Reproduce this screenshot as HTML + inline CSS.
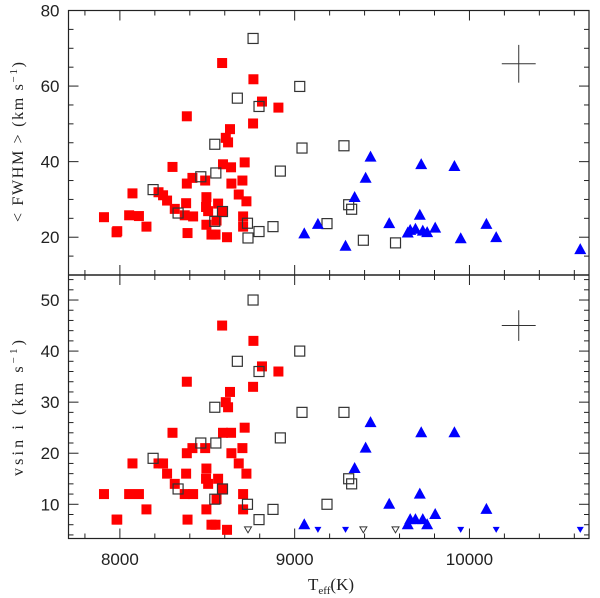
<!DOCTYPE html>
<html><head><meta charset="utf-8"><style>
html,body{margin:0;padding:0;background:#fff;}
svg{display:block;}
text{font-family:"Liberation Sans",sans-serif;fill:#222;}
</style></head><body>
<svg id="chart" width="600" height="598" viewBox="0 0 600 598" xmlns="http://www.w3.org/2000/svg"></svg>
<script>
// ---- data ----
const redTeff = [8585,8764,8813,8907,8383,8762,8630,8606,8619,8301,8590,8636,8714,8415,8488,8383,8638,8701,8072,8221,8247,8270,8495,8680,8724,8379,8493,8562,8314,8505,8590,8371,8419,7909,8053,8109,8152,8495,8553,8705,8705,7981,7985,8387,8524,8547,8613];
const redFwhm = [66.1,61.8,55.9,54.3,52.0,50.1,48.6,46.3,45.1,38.6,39.3,38.5,39.8,35.7,35.0,34.2,34.2,35.0,31.6,31.9,31.1,29.7,30.6,31.3,29.5,29.0,28.0,28.9,27.5,26.9,26.9,25.8,25.5,25.3,25.8,25.6,22.8,23.3,24.4,25.5,22.8,21.3,21.6,21.1,20.7,20.7,20.0];
const redVsini = [45,42,37,36,34,33,32,30,29,24,24,24,25,21,21,20,20,21,18,18,18,16,17,18,16,16,15,15,14,14,13,12,12,12,12,12,9,9,11,12,9,7,7,7,6,6,5];

const openTeff = [8762,9029,8672,8796,9042,8543,8918,8549,8463,8190,8333,8587,8543,8730,8796,8876,8733,9282,9309,9326,9185,9393,9577];
const openFwhm = [72.6,59.9,56.8,54.6,43.6,44.6,37.5,37.0,36.0,32.6,26.4,26.8,24.2,23.7,21.5,22.8,19.8,44.2,28.6,27.4,23.6,19.2,18.5];
const openVsini = [50,40,38,36,28,29,23,22,22,19,13,13,11,10,7,9,5,28,15,14,10,5,5];
const openLimit = [0,0,0,0,0,0,0,0,0,0,0,0,0,0,0,0,1,0,0,0,0,1,1];

const blueTeff = [9055,9133,9291,9343,9406,9434,9541,9647,9661,9691,9733,9758,9716,9724,9804,9914,9950,10097,10153,10634];
const blueFwhm = [20.9,23.4,17.6,30.5,35.6,41.2,23.6,21.1,21.8,22.1,21.6,21.2,25.8,39.2,22.4,38.7,19.6,23.4,19.9,16.7];
const blueVsini = [6,5,5,17,21,26,10,6,7,7,7,6,12,24,8,24,5,9,5,5];
const blueLimit = [0,1,1,0,0,0,0,0,0,0,0,0,0,0,0,0,1,0,1,1];

const xTicks = [8000,9000,10000];
const topTicks = [20,40,60,80];
const botTicks = [10,20,30,40,50];
const errTop = {x:10282, y:65.9, dx:97, dy:5};
const errBot = {x:10282, y:45, dx:97, dy:3};

// ---- layout ----
const L=68.5, R=589, T=10.5, M=275, B=538.5;
const X0=7706, X1=10684;
const sx = v => L + (v - X0) / (X1 - X0) * (R - L);
const syTop = v => M - (v - 10) / (80 - 10) * (M - T);
const syBot = v => B - (v - 3.3) / (54.9 - 3.3) * (B - M);

const svg = document.getElementById('chart');
const NS = 'http://www.w3.org/2000/svg';
function mk(tag, attrs, parent){
  const e = document.createElementNS(NS, tag);
  for (const k in attrs) e.setAttribute(k, attrs[k]);
  (parent||svg).appendChild(e);
  return e;
}

function panel(name, sy, ticks, minorStep, lo, hi){
  const g = mk('g', {});
  
  
  const top = sy(hi), bot = sy(lo);
  for (let v = 7800; v <= 10600; v += 200){
    const major = v % 1000 === 0;
    const len = major ? 10 : 5;
    const x = sx(v);
    mk('line', {x1:x, x2:x, y1:bot, y2:bot-len, stroke:'#222', 'stroke-width':1}, g);
    mk('line', {x1:x, x2:x, y1:top, y2:top+len, stroke:'#222', 'stroke-width':1}, g);
  }
  for (let v = Math.ceil(lo/minorStep)*minorStep; v <= hi + 0.001; v += minorStep){
    const major = ticks.indexOf(v) >= 0;
    const len = major ? 10 : 5;
    const y = sy(v);
    mk('line', {x1:L, x2:L+len, y1:y, y2:y, stroke:'#222', 'stroke-width':1}, g);
    mk('line', {x1:R, x2:R-len, y1:y, y2:y, stroke:'#222', 'stroke-width':1}, g);
  }
  ticks.forEach(v => {
    const t = mk('text', {x:L-9, y:sy(v)+6, 'text-anchor':'end', 'font-size':17}, g);
    
    
    t.textContent = v;
  });
}

function square(x, y, filled, name){
  const r = mk('rect', {x:x-5, y:y-5, width:10, height:10,
    fill: filled ? '#ff0000' : 'none', stroke: filled ? 'none' : '#333', 'stroke-width':1.2});
  
  
}
function triUp(x, y, name){
  const p = mk('polygon', {points:`${x},${y-6.5} ${x+6},${y+4.5} ${x-6},${y+4.5}`, fill:'#0000ff'});
  
  
}
function triDown(x, y, filled, name){
  const p = mk('polygon', {points:`${x-3.5},${y-3} ${x+3.5},${y-3} ${x},${y+3}`,
    fill: filled ? '#0000ff' : 'none', stroke: filled ? 'none' : '#333', 'stroke-width':1});
  
  
}
function errCross(e, sy, name){
  const g = mk('g', {stroke:'#333', 'stroke-width':1});
  
  
  mk('line', {x1:sx(e.x-e.dx), x2:sx(e.x+e.dx), y1:sy(e.y), y2:sy(e.y)}, g);
  mk('line', {x1:sx(e.x), x2:sx(e.x), y1:sy(e.y-e.dy), y2:sy(e.y+e.dy)}, g);
}

panel('fwhm-panel', syTop, topTicks, 5, 10, 80);
panel('vsini-panel', syBot, botTicks, 2, 3.3, 54.9);

const frame = mk('rect', {x:L, y:T, width:R-L, height:B-T, fill:'none', stroke:'#222', 'stroke-width':1.2});


const div = mk('line', {x1:L, x2:R, y1:M, y2:M, stroke:'#222', 'stroke-width':1.5});



xTicks.forEach(v => {
  const t = mk('text', {x:sx(v), y:565, 'text-anchor':'middle', 'font-size':17});
  
  
  t.textContent = v;
});

redTeff.forEach((t,i) => square(sx(t), syTop(redFwhm[i]), true, 'fwhm-red-square'));
openTeff.forEach((t,i) => square(sx(t), syTop(openFwhm[i]), false, 'fwhm-open-square'));
blueTeff.forEach((t,i) => triUp(sx(t), syTop(blueFwhm[i]), 'fwhm-blue-triangle'));

redTeff.forEach((t,i) => square(sx(t), syBot(redVsini[i]), true, 'vsini-red-square'));
openTeff.forEach((t,i) => {
  if (openLimit[i]) triDown(sx(t), syBot(openVsini[i]), false, 'vsini-open-upper-limit');
  else square(sx(t), syBot(openVsini[i]), false, 'vsini-open-square');
});
blueTeff.forEach((t,i) => {
  if (blueLimit[i]) triDown(sx(t), syBot(blueVsini[i]), true, 'vsini-blue-upper-limit');
  else triUp(sx(t), syBot(blueVsini[i]), 'vsini-blue-triangle');
});

errCross(errTop, syTop, 'fwhm-error-cross');
errCross(errBot, syBot, 'vsini-error-cross');
</script>
<svg style="position:absolute;left:0;top:0" width="600" height="598" xmlns="http://www.w3.org/2000/svg">
  <text transform="translate(23,142) rotate(-90)" text-anchor="middle" font-size="16" textLength="160" lengthAdjust="spacing" style="font-family:'Liberation Serif',serif;fill:#222">&lt; FWHM &gt; (km s<tspan dy="-6" font-size="11">−1</tspan><tspan dy="6">)</tspan></text>
  <text transform="translate(23,408) rotate(-90)" text-anchor="middle" font-size="16" textLength="136" lengthAdjust="spacing" style="font-family:'Liberation Serif',serif;fill:#222">vsin i (km s<tspan dy="-6" font-size="11">−1</tspan><tspan dy="6">)</tspan></text>
  <text x="308" y="590" font-size="17" style="font-family:'Liberation Serif',serif;fill:#222">T<tspan dy="4" font-size="11">eff</tspan><tspan dy="-4">(K)</tspan></text>
</svg>
</body></html>
